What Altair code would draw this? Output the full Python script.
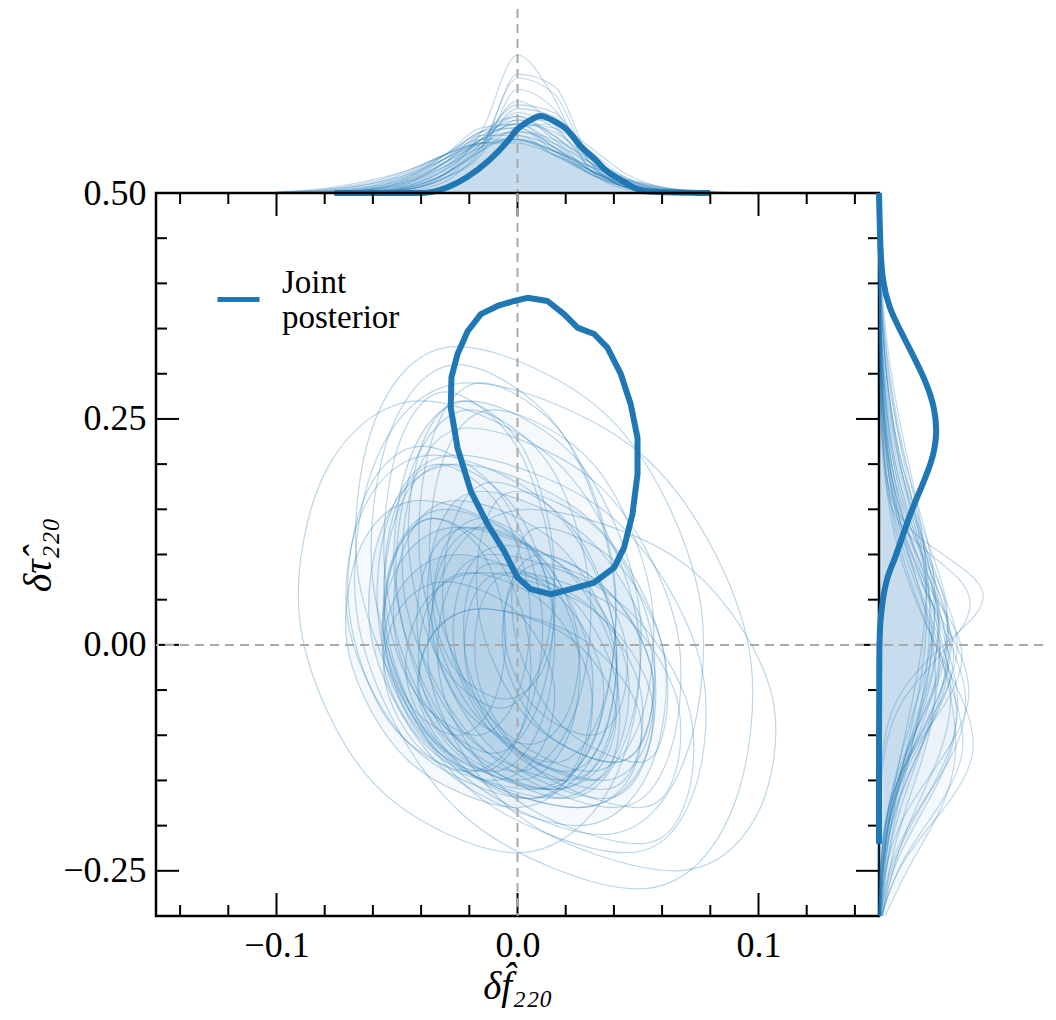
import altair as alt
import pandas as pd

C0 = "#1f77b4"
DASH_GRAY = "#a9a9a9"
SERIF = "Liberation Serif"

X_DOMAIN = [-0.15, 0.15]
TAU_DOMAIN = [-0.3, 0.5]
TOP_DENSITY_DOMAIN = [0, 48]
RIGHT_DENSITY_DOMAIN = [0, 13.5]

x_major = [-0.1, 0.0, 0.1]
x_minor = [-0.14, -0.12, -0.08, -0.06, -0.04, -0.02, 0.02, 0.04, 0.06, 0.08, 0.12, 0.14]
y_major = [-0.25, 0.0, 0.25, 0.5]
y_minor = [-0.2, -0.15, -0.1, -0.05, 0.05, 0.1, 0.15, 0.2, 0.3, 0.35, 0.4, 0.45]

X_TITLE = "\u03b4f\u0302\u2082\u2082\u2080"
Y_TITLE = "\u03b4\u03c4\u0302\u2082\u2082\u2080"
LEGEND_LABEL = "Joint posterior"

# thick joint-posterior contour
joint_f = [0.0041, 0.0124, 0.0193, 0.0249, 0.0318, 0.0373, 0.0429, 0.0470, 0.0498, 0.0498,
           0.0477, 0.0442, 0.0401, 0.0318, 0.0221, 0.0138, 0.0055, 0.0, -0.0056, -0.0124,
           -0.0194, -0.0249, -0.0277, -0.0274, -0.0249, -0.0207, -0.0152, -0.0083, -0.0014]
joint_tau = [0.384, 0.3805, 0.366, 0.351, 0.344, 0.329, 0.2995, 0.266, 0.229, 0.189,
             0.1446, 0.1076, 0.0855, 0.069, 0.0616, 0.056, 0.0616, 0.0745, 0.104, 0.1335,
             0.170, 0.218, 0.2625, 0.296, 0.3215, 0.347, 0.366, 0.375, 0.3805]

# individual-event contours (representative, 8 points each)
thin_contours = [
    [(-0.030, 0.200), (-0.0005, 0.149), (0.015, 0.030), (0.0095, -0.089), (-0.010, -0.140), (-0.0395, -0.089), (-0.055, 0.030), (-0.0495, 0.149)],
    [(-0.030, 0.150), (0.0055, 0.105), (0.025, 0.000), (0.0205, -0.105), (0.000, -0.150), (-0.0355, -0.105), (-0.055, 0.000), (-0.0505, 0.105)],
    [(-0.020, 0.130), (0.018, 0.088), (0.040, -0.010), (0.038, -0.108), (0.020, -0.150), (-0.018, -0.108), (-0.040, -0.010), (-0.038, 0.088)],
    [(-0.010, 0.180), (0.022, 0.132), (0.040, 0.020), (0.037, -0.092), (0.020, -0.140), (-0.012, -0.092), (-0.030, 0.020), (-0.027, 0.132)],
    [(-0.020, 0.260), (0.013, 0.200), (0.030, 0.060), (0.023, -0.080), (0.000, -0.140), (-0.033, -0.080), (-0.050, 0.060), (-0.043, 0.200)],
    [(-0.010, 0.090), (0.021, 0.054), (0.040, -0.030), (0.041, -0.114), (0.030, -0.150), (-0.001, -0.114), (-0.020, -0.030), (-0.021, 0.054)],
    [(-0.035, 0.140), (-0.009, 0.098), (0.005, 0.000), (0.001, -0.098), (-0.015, -0.140), (-0.041, -0.098), (-0.055, 0.000), (-0.051, 0.098)],
    [(-0.020, 0.270), (0.025, 0.204), (0.050, 0.050), (0.045, -0.104), (0.020, -0.170), (-0.025, -0.104), (-0.050, 0.050), (-0.045, 0.204)],
    [(-0.015, 0.170), (0.029, 0.119), (0.055, 0.000), (0.054, -0.119), (0.035, -0.170), (-0.009, -0.119), (-0.035, 0.000), (-0.034, 0.119)],
    [(-0.025, 0.130), (0.020, 0.085), (0.045, -0.020), (0.040, -0.125), (0.015, -0.170), (-0.030, -0.125), (-0.055, -0.020), (-0.050, 0.085)],
    [(-0.030, 0.280), (-0.0005, 0.220), (0.015, 0.080), (0.0095, -0.060), (-0.010, -0.120), (-0.0395, -0.060), (-0.055, 0.080), (-0.0495, 0.220)],
    [(-0.005, 0.080), (0.0295, 0.044), (0.050, -0.040), (0.0495, -0.124), (0.035, -0.160), (0.0005, -0.124), (-0.020, -0.040), (-0.0195, 0.044)],
    [(-0.025, 0.200), (0.0295, 0.140), (0.060, 0.000), (0.0545, -0.140), (0.025, -0.200), (-0.0295, -0.140), (-0.060, 0.000), (-0.0545, 0.140)],
    [(-0.025, 0.330), (0.039, 0.249), (0.075, 0.060), (0.069, -0.129), (0.035, -0.210), (-0.029, -0.129), (-0.065, 0.060), (-0.059, 0.249)],
    [(-0.020, 0.290), (0.0535, 0.206), (0.095, 0.010), (0.0885, -0.186), (0.050, -0.270), (-0.0235, -0.186), (-0.065, 0.010), (-0.0585, 0.206)],
    [(-0.015, 0.140), (0.005, 0.110), (0.015, 0.040), (0.010, -0.030), (-0.005, -0.060), (-0.025, -0.030), (-0.035, 0.040), (-0.030, 0.110)],
    [(0.010, 0.100), (0.0325, 0.070), (0.045, 0.000), (0.0425, -0.070), (0.030, -0.100), (0.0075, -0.070), (-0.005, 0.000), (-0.0025, 0.070)],
    [(-0.035, 0.140), (-0.015, 0.104), (-0.005, 0.020), (-0.010, -0.064), (-0.025, -0.100), (-0.045, -0.064), (-0.055, 0.020), (-0.050, 0.104)],
    [(-0.015, 0.040), (0.0205, 0.010), (0.040, -0.060), (0.0355, -0.130), (0.015, -0.160), (-0.0205, -0.130), (-0.040, -0.060), (-0.0355, 0.010)],
    [(0.010, 0.090), (0.0385, 0.057), (0.055, -0.020), (0.0535, -0.097), (0.040, -0.130), (0.0115, -0.097), (-0.005, -0.020), (-0.0035, 0.057)],
    [(-0.023, 0.270), (0.002, 0.219), (0.015, 0.100), (0.010, -0.019), (-0.007, -0.070), (-0.032, -0.019), (-0.045, 0.100), (-0.040, 0.219)],
    [(-0.015, 0.080), (0.030, 0.041), (0.055, -0.050), (0.050, -0.141), (0.025, -0.180), (-0.020, -0.141), (-0.045, -0.050), (-0.040, 0.041)],
    [(-0.015, 0.130), (0.011, 0.094), (0.025, 0.010), (0.021, -0.074), (0.005, -0.110), (-0.021, -0.074), (-0.035, 0.010), (-0.031, 0.094)],
    [(-0.010, 0.260), (0.0315, 0.200), (0.055, 0.060), (0.0515, -0.080), (0.030, -0.140), (-0.0115, -0.080), (-0.035, 0.060), (-0.0315, 0.200)],
    [(-0.025, 0.100), (0.014, 0.061), (0.035, -0.030), (0.029, -0.121), (0.005, -0.160), (-0.034, -0.121), (-0.055, -0.030), (-0.049, 0.061)],
    [(-0.010, 0.100), (0.040, 0.052), (0.070, -0.060), (0.070, -0.172), (0.050, -0.220), (0.000, -0.172), (-0.030, -0.060), (-0.030, 0.052)],
    [(0.005, 0.150), (0.069, 0.090), (0.105, -0.050), (0.099, -0.190), (0.065, -0.250), (0.001, -0.190), (-0.035, -0.050), (-0.029, 0.090)],
    [(-0.040, 0.270), (0.019, 0.195), (0.050, 0.020), (0.039, -0.155), (0.000, -0.230), (-0.059, -0.155), (-0.090, 0.020), (-0.079, 0.195)],
    [(-0.033, 0.200), (-0.008, 0.155), (0.005, 0.050), (0.000, -0.055), (-0.017, -0.100), (-0.042, -0.055), (-0.055, 0.050), (-0.050, 0.155)],
    [(-0.005, 0.110), (0.033, 0.071), (0.055, -0.020), (0.053, -0.111), (0.035, -0.150), (-0.003, -0.111), (-0.025, -0.020), (-0.023, 0.071)],
    [(-0.025, 0.160), (0.0165, 0.112), (0.040, 0.000), (0.0365, -0.112), (0.015, -0.160), (-0.0265, -0.112), (-0.050, 0.000), (-0.0465, 0.112)],
    [(-0.030, 0.070), (-0.0005, 0.037), (0.015, -0.040), (0.0095, -0.117), (-0.010, -0.150), (-0.0395, -0.117), (-0.055, -0.040), (-0.0495, 0.037)],
    [(0.000, 0.170), (0.0345, 0.125), (0.055, 0.020), (0.0545, -0.085), (0.040, -0.130), (0.0055, -0.085), (-0.015, 0.020), (-0.0145, 0.125)],
    [(-0.025, 0.310), (0.0175, 0.238), (0.040, 0.070), (0.0325, -0.098), (0.005, -0.170), (-0.0375, -0.098), (-0.060, 0.070), (-0.0525, 0.238)],
    [(-0.015, 0.040), (0.0265, 0.007), (0.050, -0.070), (0.0465, -0.147), (0.025, -0.180), (-0.0165, -0.147), (-0.040, -0.070), (-0.0365, 0.007)],
    [(-0.040, 0.220), (-0.007, 0.166), (0.010, 0.040), (0.003, -0.086), (-0.020, -0.140), (-0.053, -0.086), (-0.070, 0.040), (-0.063, 0.166)],
    [(-0.020, 0.240), (0.0335, 0.177), (0.065, 0.030), (0.0635, -0.117), (0.040, -0.180), (-0.0135, -0.117), (-0.045, 0.030), (-0.0435, 0.177)],
    [(0.000, 0.080), (0.0405, 0.041), (0.065, -0.050), (0.0655, -0.141), (0.050, -0.180), (0.0095, -0.141), (-0.015, -0.050), (-0.0155, 0.041)],
    [(-0.035, 0.210), (0.0135, 0.153), (0.040, 0.020), (0.0335, -0.113), (0.005, -0.170), (-0.0435, -0.113), (-0.070, 0.020), (-0.0635, 0.153)],
    [(-0.015, 0.290), (0.0205, 0.227), (0.040, 0.080), (0.0355, -0.067), (0.015, -0.130), (-0.0205, -0.067), (-0.040, 0.080), (-0.0355, 0.227)],
    [(-0.020, 0.080), (0.012, 0.044), (0.030, -0.040), (0.027, -0.124), (0.010, -0.160), (-0.022, -0.124), (-0.040, -0.040), (-0.037, 0.044)],
    [(0.010, 0.130), (0.041, 0.091), (0.060, 0.000), (0.061, -0.091), (0.050, -0.130), (0.019, -0.091), (0.000, 0.000), (-0.001, 0.091)],
    [(-0.040, 0.160), (0.005, 0.109), (0.030, -0.010), (0.025, -0.129), (0.000, -0.180), (-0.045, -0.129), (-0.070, -0.010), (-0.065, 0.109)],
    [(-0.025, 0.210), (0.038, 0.144), (0.075, -0.010), (0.073, -0.164), (0.045, -0.230), (-0.018, -0.164), (-0.055, -0.010), (-0.053, 0.144)],
]
# contours whose interiors carry a faint haze
haze_contours = [1, 7, 8, 9, 12, 24, 30, 42]

# top marginal (delta f)
top_grid = [-0.10, -0.08, -0.06, -0.045, -0.03, -0.015, 0.0, 0.015, 0.03, 0.045, 0.06, 0.08, 0.10]
top_thin = [
    [0, 0, 0.3, 1.5, 5, 11, 15, 12, 6, 2, 0.5, 0, 0],
    [0, 0.2, 1, 3, 7, 12, 14, 11, 6, 2.5, 0.8, 0.1, 0],
    [0, 0, 0.2, 1, 4, 12, 22, 20, 9, 2.5, 0.5, 0, 0],
    [0, 0, 0.1, 0.6, 3, 12, 30, 26, 8, 1.5, 0.2, 0, 0],
    [0, 0, 0.2, 1, 5, 16, 36, 25, 6, 1, 0.1, 0, 0],
    [0.2, 0.8, 2.5, 5, 9, 13, 14, 11, 7, 3.5, 1.5, 0.3, 0],
    [0.1, 0.5, 2, 5, 10, 15, 15, 10, 5, 2, 0.6, 0.1, 0],
    [0, 0.3, 1.5, 4, 9, 15, 17, 12, 6, 2, 0.5, 0, 0],
    [0, 0.1, 0.8, 3, 8, 14, 18, 16, 9, 3, 0.8, 0.1, 0],
    [0, 0, 0.3, 1.5, 5, 12, 19, 19, 11, 4, 1, 0.1, 0],
    [0.3, 1.2, 3.5, 6, 10, 13, 13, 10, 6, 3, 1.2, 0.3, 0.1],
    [0, 0.1, 1, 3.5, 9, 16, 17, 11, 5, 1.5, 0.3, 0, 0],
    [0, 0, 0.5, 2.5, 8, 16, 20, 14, 6, 1.5, 0.3, 0, 0],
    [0, 0, 0.2, 1.2, 5, 13, 24, 18, 7, 1.5, 0.2, 0, 0],
    [0, 0.2, 1.2, 3.5, 8, 13, 16, 14, 9, 4, 1.5, 0.3, 0],
    [0.1, 0.6, 2.5, 5.5, 10, 14, 14, 10, 5.5, 2.5, 0.8, 0.1, 0],
    [0, 0, 0.4, 2, 6, 13, 21, 17, 8, 2.5, 0.5, 0, 0],
    [0, 0.1, 1, 4, 10, 17, 18, 12, 5, 1.5, 0.3, 0, 0],
    [0, 0, 0.3, 1.5, 5, 11, 17, 18, 12, 5, 1.5, 0.2, 0],
    [0, 0, 0.2, 1, 4, 10, 27, 22, 8, 1.5, 0.2, 0, 0],
    [0, 0.1, 0.6, 2.5, 7, 14, 20, 15, 7, 2, 0.4, 0, 0],
    [0.1, 0.4, 1.8, 4.5, 9, 14, 16, 13, 8, 3.5, 1, 0.2, 0],
    [0, 0, 0.3, 1.8, 6, 14, 23, 21, 10, 2.5, 0.4, 0, 0],
    [0, 0.2, 1.4, 4.5, 10, 16, 18, 13, 6, 2, 0.5, 0, 0],
    [0, 0, 0.2, 1, 4, 11, 31, 28, 9, 1.5, 0.1, 0, 0],
    [0.2, 0.9, 3, 6, 10, 13, 13.5, 11, 7, 3.5, 1.3, 0.2, 0],
    [0, 0.1, 0.8, 3, 8, 15, 19, 15, 8, 2.5, 0.5, 0.05, 0],
    [0, 0, 0.4, 2, 6.5, 14, 18, 17, 10, 3.5, 0.8, 0.05, 0],
]
top_haze = [0, 5, 8, 10, 13, 21]
top_joint_f = [-0.076, -0.040, -0.029, -0.021, -0.012, -0.004, 0.0, 0.004, 0.0097, 0.015,
               0.021, 0.026, 0.032, 0.037, 0.043, 0.048, 0.054, 0.080]
top_joint_d = [0, 0, 1.5, 4.1, 8.4, 13.6, 16.7, 18.5, 20.1, 18.8,
               16.2, 12.3, 8.9, 5.7, 3.4, 1.5, 0.4, 0]

# right marginal (delta tau)
right_grid = [0.45, 0.35, 0.25, 0.18, 0.12, 0.06, 0.0, -0.06, -0.12, -0.18, -0.24, -0.3]
right_thin = [
    [0, 0.2, 1, 2, 3.2, 4.2, 4.5, 3.8, 2.5, 1.2, 0.4, 0.1],
    [0, 0.1, 0.6, 1.6, 3, 4.6, 5.3, 4.4, 2.6, 1, 0.3, 0.05],
    [0, 0.3, 1.3, 2.4, 3.4, 4, 3.9, 3.2, 2.2, 1.2, 0.5, 0.15],
    [0, 0.05, 0.4, 1.2, 2.8, 5, 6.2, 5, 2.6, 0.9, 0.2, 0],
    [0, 0.4, 1.6, 2.8, 3.7, 4, 3.6, 2.8, 1.8, 0.9, 0.3, 0.1],
    [0, 0.1, 0.8, 2, 3.6, 5, 5, 3.8, 2.2, 0.9, 0.3, 0.05],
    [0, 0.05, 0.3, 1, 2.4, 4.4, 6, 5.4, 3.2, 1.2, 0.3, 0.05],
    [0, 0.2, 1.2, 2.6, 4, 4.8, 4.4, 3.2, 1.8, 0.7, 0.2, 0],
    [0, 0.1, 0.5, 1.4, 3, 5, 6.4, 5, 2.4, 0.7, 0.1, 0],
    [0, 0.05, 0.4, 1.2, 2.6, 4.2, 5.2, 4.8, 3.4, 1.7, 0.6, 0.15],
    [0, 0.2, 1, 2.2, 3.6, 4.6, 4.6, 3.6, 2.2, 1, 0.3, 0.1],
    [0, 0.1, 0.6, 1.6, 3.2, 5.2, 7, 5.4, 2.4, 0.6, 0.1, 0],
    [0, 0.3, 1.4, 2.6, 3.6, 4.2, 4.2, 3.6, 2.6, 1.5, 0.6, 0.2],
    [0, 0.1, 0.6, 1.4, 2.8, 4.6, 5.8, 5.2, 3.2, 1.3, 0.4, 0.1],
    [0, 0.05, 0.3, 1, 2.4, 4.6, 6.6, 5.6, 2.8, 0.9, 0.2, 0],
    [0, 0.2, 0.9, 2, 3.4, 4.8, 5, 4, 2.4, 1, 0.3, 0.05],
    [0, 0.1, 0.4, 1, 2, 3.4, 4.6, 4.8, 3.8, 2.2, 0.9, 0.3],
    [0, 0.1, 0.7, 1.8, 3.4, 5.4, 6, 4.4, 2, 0.6, 0.1, 0],
    [0, 0.2, 1, 2.2, 3.8, 5.6, 5.8, 4.2, 2.2, 0.8, 0.2, 0],
    [0, 0.05, 0.2, 0.8, 2, 4, 7.6, 6, 2.4, 0.6, 0.1, 0],
    [0, 0, 0.1, 0.4, 1.5, 9, 6, 1.5, 0.3, 0, 0, 0],
    [0, 0, 0.1, 0.5, 2, 11, 5, 1, 0.2, 0, 0, 0],
    [0, 0.05, 0.3, 0.8, 1.8, 3.4, 5.2, 6.6, 6.2, 3.8, 1.2, 0.2],
    [0, 0.05, 0.2, 0.6, 1.4, 2.8, 4.6, 6.4, 7.4, 5, 1.6, 0.2],
    [0, 0.1, 0.5, 1.2, 2.4, 4, 5.6, 6.8, 6, 3.4, 1, 0.1],
    [0, 0.05, 0.2, 0.5, 1.2, 2.6, 4.6, 7, 8.4, 5.6, 1.6, 0.2],
    [0, 0.1, 0.4, 1, 2.2, 3.8, 5.4, 6.2, 5.2, 3, 1.2, 0.3],
    [0, 0.05, 0.3, 0.9, 2, 3.8, 6, 7.6, 6.4, 3.2, 0.8, 0.1],
    [0, 0.05, 0.2, 0.6, 1.6, 3.2, 5, 6, 6.6, 5.4, 2.6, 0.5],
    [0, 0.1, 0.3, 0.8, 1.8, 3.6, 6.6, 8, 5.6, 2.2, 0.5, 0.05],
]
right_haze = [0, 2, 9, 16, 22, 28]
right_joint_tau = [0.5, 0.44, 0.403, 0.373, 0.347, 0.322, 0.292, 0.2625, 0.233, 0.2035,
                   0.174, 0.1446, 0.115, 0.093, 0.076, 0.049, 0.021, 0.0, -0.1, -0.22]
right_joint_d = [0, 0.1, 0.27, 0.82, 1.79, 2.74, 3.85, 4.59, 4.80, 4.39,
                 3.48, 2.55, 1.81, 1.24, 0.68, 0.27, 0.08, 0.02, 0, 0]

# ---------------------------------------------------------------- layout
W, H = 723, 723
TOP_H = 184
RIGHT_W = 164
MAJOR_LEN, MINOR_LEN = 23, 11
HAZE_OPACITY = 0.045

xs = alt.Scale(domain=X_DOMAIN, nice=False, zero=False)
ys = alt.Scale(domain=TAU_DOMAIN, nice=False, zero=False)
top_ds = alt.Scale(domain=TOP_DENSITY_DOMAIN, nice=False, zero=False)
right_ds = alt.Scale(domain=RIGHT_DENSITY_DOMAIN, nice=False, zero=False)

x_axis = alt.Axis(values=x_major, format=".1f", tickSize=0, domain=False, grid=False,
                  labelFont=SERIF, labelFontSize=36, labelColor="black", labelPadding=12,
                  labelFlush=False, labelOverlap=False,
                  title=X_TITLE, titleFont=SERIF, titleFontStyle="italic", titleFontWeight="normal",
                  titleFontSize=39, titleColor="black", titlePadding=4)
y_axis = alt.Axis(values=y_major, format=".2f", tickSize=0, domain=False, grid=False,
                  labelFont=SERIF, labelFontSize=36, labelColor="black", labelPadding=10,
                  labelFlush=False, labelOverlap=False,
                  title=Y_TITLE, titleFont=SERIF, titleFontStyle="italic", titleFontWeight="normal",
                  titleFontSize=40, titleColor="black", titlePadding=4)

X = lambda f: alt.X(f, scale=xs, axis=x_axis)
Y = lambda f: alt.Y(f, scale=ys, axis=y_axis)

thin_df = pd.DataFrame([{"id": i, "k": k, "f": p[0], "tau": p[1]}
                        for i, c in enumerate(thin_contours) for k, p in enumerate(c)])
haze_df = thin_df[thin_df["id"].isin(haze_contours)]
joint_df = pd.DataFrame({"k": list(range(len(joint_f))), "f": joint_f, "tau": joint_tau,
                         "name": [LEGEND_LABEL] * len(joint_f)})

haze_layer = alt.Chart(haze_df).mark_line(
    interpolate="cardinal-closed", fill=C0, fillOpacity=HAZE_OPACITY, strokeOpacity=0
).encode(x=X("f:Q"), y=Y("tau:Q"), detail="id:N", order="k:Q")

thin_layer = alt.Chart(thin_df).mark_line(
    interpolate="cardinal-closed", color=C0, strokeWidth=1.2, strokeOpacity=0.3
).encode(x=X("f:Q"), y=Y("tau:Q"), detail="id:N", order="k:Q")

joint_layer = alt.Chart(joint_df).mark_line(
    interpolate="linear-closed", strokeWidth=6, strokeJoin="round"
).encode(
    x=X("f:Q"), y=Y("tau:Q"), order="k:Q",
    color=alt.Color("name:N", scale=alt.Scale(domain=[LEGEND_LABEL], range=[C0]),
                    legend=alt.Legend(orient="none", legendX=59, legendY=267, title=None,
                                      symbolType="stroke", symbolSize=1764, symbolStrokeWidth=5,
                                      labelFont=SERIF, labelFontSize=33, labelColor="black",
                                      labelOffset=20, labelLimit=400, padding=0,
                                      labelBaseline="bottom",
                                      labelExpr="split(datum.label, ' ')")),
)

def vdf(vals):
    return pd.DataFrame({"v": vals})

tick_layers = []
for vals, L in ((x_major, MAJOR_LEN), (x_minor, MINOR_LEN)):
    tick_layers.append(alt.Chart(vdf(vals)).mark_rule(color="black", strokeWidth=2).encode(
        x=X("v:Q"), y=alt.value(H - L), y2=alt.value(H)))
    tick_layers.append(alt.Chart(vdf(vals)).mark_rule(color="black", strokeWidth=2).encode(
        x=X("v:Q"), y=alt.value(0), y2=alt.value(L)))
for vals, L in ((y_major, MAJOR_LEN), (y_minor, MINOR_LEN)):
    tick_layers.append(alt.Chart(vdf(vals)).mark_rule(color="black", strokeWidth=2).encode(
        y=Y("v:Q"), x=alt.value(0), x2=alt.value(L)))
    tick_layers.append(alt.Chart(vdf(vals)).mark_rule(color="black", strokeWidth=2).encode(
        y=Y("v:Q"), x=alt.value(W - L), x2=alt.value(W)))

dash_v = alt.Chart(vdf([0.0])).mark_rule(color=DASH_GRAY, strokeWidth=2, strokeDash=[9, 6]).encode(x=X("v:Q"))
dash_h = alt.Chart(vdf([0.0])).mark_rule(color=DASH_GRAY, strokeWidth=2, strokeDash=[9, 6]).encode(y=Y("v:Q"))

main = alt.layer(haze_layer, thin_layer, *tick_layers, dash_v, dash_h, joint_layer).properties(
    width=W, height=H, view=alt.ViewBackground(stroke="black", strokeWidth=2.5))

# top marginal
top_thin_df = pd.DataFrame([{"id": i, "f": f, "d": d}
                            for i, row in enumerate(top_thin) for f, d in zip(top_grid, row)])
top_haze_df = top_thin_df[top_thin_df["id"].isin(top_haze)]
top_joint_df = pd.DataFrame({"f": top_joint_f, "d": top_joint_d})
TX = alt.X("f:Q", scale=xs, axis=None)
TY = alt.Y("d:Q", scale=top_ds, axis=None)
top = alt.layer(
    alt.Chart(top_haze_df).mark_line(interpolate="monotone", fill=C0, fillOpacity=HAZE_OPACITY,
                                     strokeOpacity=0).encode(x=TX, y=TY, detail="id:N", order="f:Q"),
    alt.Chart(top_thin_df).mark_line(interpolate="monotone", color=C0, strokeWidth=1.2,
                                     strokeOpacity=0.27).encode(x=TX, y=TY, detail="id:N", order="f:Q"),
    alt.Chart(vdf([0.0])).mark_rule(color=DASH_GRAY, strokeWidth=2, strokeDash=[9, 6]).encode(
        x=alt.X("v:Q", scale=xs, axis=None)),
    alt.Chart(top_joint_df).mark_line(interpolate="monotone", color=C0, strokeWidth=6).encode(
        x=TX, y=TY, order="f:Q"),
).properties(width=W, height=TOP_H, view=alt.ViewBackground(strokeWidth=0))

# right marginal
right_thin_df = pd.DataFrame([{"id": i, "tau": t, "d": d}
                              for i, row in enumerate(right_thin) for t, d in zip(right_grid, row)])
right_haze_df = right_thin_df[right_thin_df["id"].isin(right_haze)]
right_joint_df = pd.DataFrame({"tau": right_joint_tau, "d": right_joint_d})
RY = alt.Y("tau:Q", scale=ys, axis=None)
RX = alt.X("d:Q", scale=right_ds, axis=None)
RO = alt.Order("tau:Q", sort="descending")
right = alt.layer(
    alt.Chart(right_haze_df).mark_line(interpolate="basis", fill=C0, fillOpacity=HAZE_OPACITY,
                                       strokeOpacity=0).encode(y=RY, x=RX, detail="id:N", order=RO),
    alt.Chart(right_thin_df).mark_line(interpolate="basis", color=C0, strokeWidth=1.2,
                                       strokeOpacity=0.27).encode(y=RY, x=RX, detail="id:N", order=RO),
    alt.Chart(vdf([0.0])).mark_rule(color=DASH_GRAY, strokeWidth=2, strokeDash=[9, 6]).encode(
        y=alt.Y("v:Q", scale=ys, axis=None)),
    alt.Chart(right_joint_df).mark_line(interpolate="basis", color=C0, strokeWidth=6).encode(
        y=RY, x=RX, order=RO),
).properties(width=RIGHT_W, height=H, view=alt.ViewBackground(strokeWidth=0))

row = alt.hconcat(main, right, spacing=0, bounds="flush")
chart = alt.vconcat(top, row, spacing=0, bounds="flush").properties(
    padding={"left": 9, "top": 0, "right": 0, "bottom": 0}
).configure(background="white")

chart.save("out.html", embed_options={"renderer": "svg", "actions": False})
